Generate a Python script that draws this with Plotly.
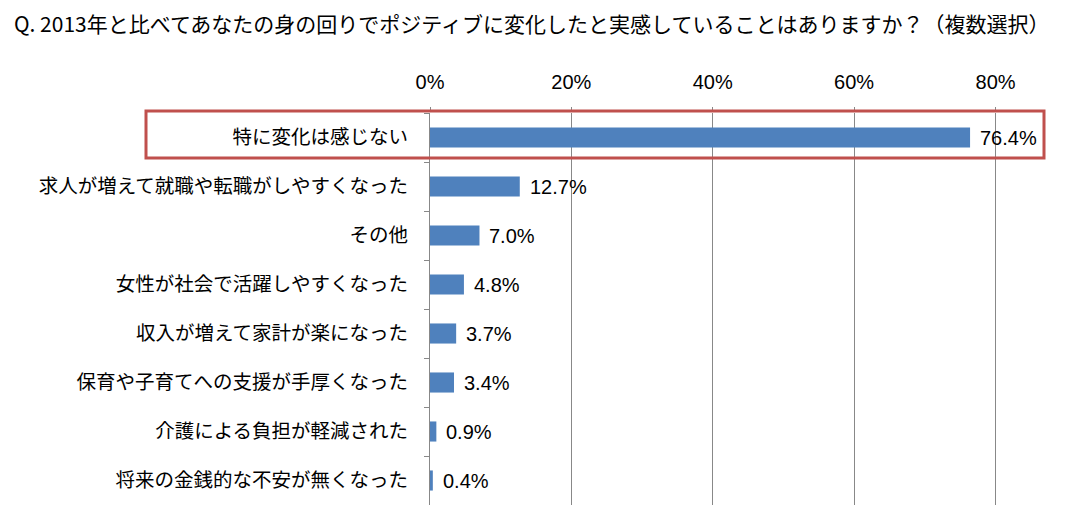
import plotly.graph_objects as go

title_text = "Q. 2013年と比べてあなたの身の回りでポジティブに変化したと実感していることはありますか？（複数選択）"
categories = [
    "特に変化は感じない",
    "求人が増えて就職や転職がしやすくなった",
    "その他",
    "女性が社会で活躍しやすくなった",
    "収入が増えて家計が楽になった",
    "保育や子育てへの支援が手厚くなった",
    "介護による負担が軽減された",
    "将来の金銭的な不安が無くなった",
]
values = [76.4, 12.7, 7.0, 4.8, 3.7, 3.4, 0.9, 0.4]
tick_vals = [0, 20, 40, 60, 80]
tick_text = ["0%", "20%", "40%", "60%", "80%"]

OFF = 8  # page body margin
W, H = 1087 - OFF, 528 - OFF
L, R, T, B = 430 - OFF, 42, 113 - OFF, 23
pw, ph = W - L - R, H - T - B

fig = go.Figure()
fig.add_trace(go.Bar(
    x=values, y=categories, orientation="h",
    marker=dict(color="#4F81BD", line=dict(width=0)),
    hoverinfo="x+y",
))

for v, c in zip(values, categories):
    fig.add_annotation(
        x=v, y=c, xref="x", yref="y", text=f"{v:.1f}%",
        showarrow=False, xanchor="left", yanchor="middle", xshift=8,
        font=dict(family="Liberation Sans, Arial", size=20, color="#000000"),
    )

def px_x(p):
    return (p - OFF - L) / pw

def px_y(p):
    return (H + OFF - B - p) / ph

fig.add_shape(
    type="rect", xref="paper", yref="paper",
    x0=px_x(146), x1=px_x(1044), y0=px_y(158), y1=px_y(111),
    line=dict(color="#C0504D", width=3), fillcolor="rgba(0,0,0,0)",
)

fig.update_layout(
    width=W, height=H,
    margin=dict(l=L, r=R, t=T, b=B, pad=0, autoexpand=False),
    paper_bgcolor="white", plot_bgcolor="white",
    showlegend=False,
    bargap=0.59,
    title=dict(
        text=title_text, xref="container", x=(14 - OFF) / W, xanchor="left",
        yref="container", y=1 - (25 - OFF) / H, yanchor="middle",
        pad=dict(l=0, r=0, t=0, b=0), automargin=False,
        font=dict(family="Noto Sans CJK JP", size=21, color="#000000"),
    ),
    xaxis=dict(
        side="top", range=[0, 87], tickvals=tick_vals, ticktext=tick_text,
        showgrid=True, gridcolor="#888888", gridwidth=1,
        zeroline=False, showline=False,
        ticks="outside", ticklen=5, tickcolor="#888888", tickwidth=1,
        tickfont=dict(family="Liberation Sans, Arial", size=20, color="#000000"),
        ticklabelstandoff=10, automargin=False,
        fixedrange=True,
    ),
    yaxis=dict(
        autorange="reversed", type="category",
        showgrid=False, zeroline=False,
        showline=True, linecolor="#888888", linewidth=1,
        ticks="outside", tickson="boundaries", ticklen=5, tickcolor="#888888",
        tickfont=dict(family="Noto Sans CJK JP", size=19.5, color="#000000"),
        ticklabelstandoff=17, automargin=False,
        fixedrange=True,
    ),
)

fig.write_html("out.html")
